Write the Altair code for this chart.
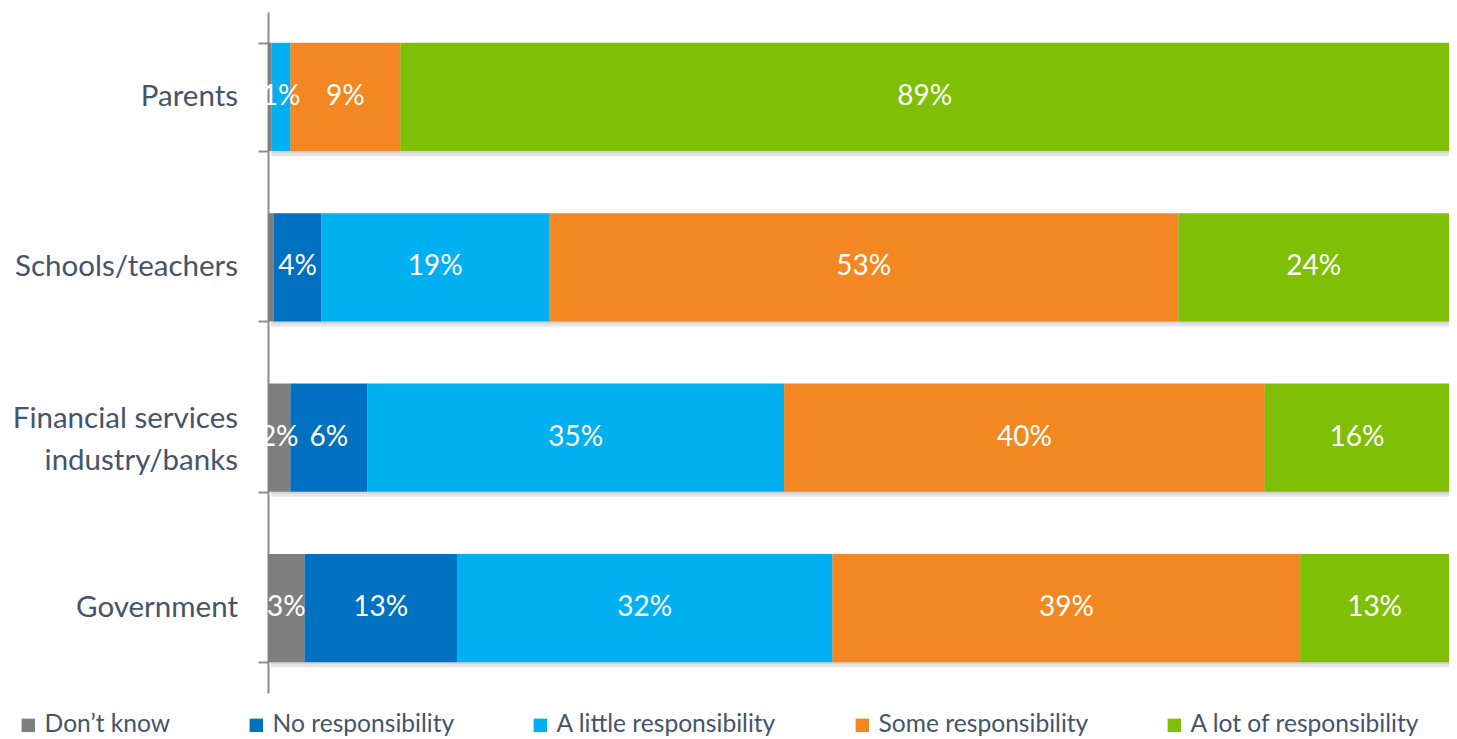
import altair as alt
import pandas as pd

categories = ["Parents", "Schools/teachers", "Financial services industry/banks", "Government"]
series = ["Don\u2019t know", "No responsibility", "A little responsibility", "Some responsibility", "A lot of responsibility"]
colors = ["#7F7F7F", "#0070C0", "#00B0F0", "#F38722", "#7FBF05"]

# category label lines (one or two lines per category)
cat_line1 = ["Parents", "Schools/teachers", "Financial services", "Government"]
cat_line2 = ["", "", "industry/banks", ""]

# values per series, in category order (percent)
dont_know = [0.3, 0.5, 1.9, 3.1]
no_resp = [0.0, 4.0, 6.5, 12.9]
little_resp = [1.6, 19.3, 35.3, 31.8]
some_resp = [9.3, 53.3, 40.7, 39.6]
lot_resp = [88.7, 22.9, 15.6, 12.6]

# data labels as printed
dont_know_lbl = ["", "", "2%", "3%"]
no_resp_lbl = ["", "4%", "6%", "13%"]
little_resp_lbl = ["1%", "19%", "35%", "32%"]
some_resp_lbl = ["9%", "53%", "40%", "39%"]
lot_resp_lbl = ["89%", "24%", "16%", "13%"]

vals = [dont_know, no_resp, little_resp, some_resp, lot_resp]
lbls = [dont_know_lbl, no_resp_lbl, little_resp_lbl, some_resp_lbl, lot_resp_lbl]

rows = []
for si, s in enumerate(series):
    for ci, c in enumerate(categories):
        rows.append({"cat": c, "series": s, "order": si, "val": vals[si][ci], "lbl": lbls[si][ci]})
df = pd.DataFrame(rows)

cat_df = pd.DataFrame({"cat": categories, "l1": cat_line1, "l2": cat_line2})
cat_df["two"] = cat_df["l2"] != ""

FONT = "Lato"
W, H = 1181, 681
LABEL_COLOR = "#44546A"

yscale = alt.Scale(domain=categories, paddingInner=0.365, paddingOuter=0.18)
yaxis = alt.Axis(
    domainColor="#8C8C8C", domainWidth=2, tickColor="#8C8C8C", tickWidth=2,
    tickSize=10, tickBand="extent", labels=False,
)
Y = alt.Y("cat:N", scale=yscale, sort=categories, title=None, axis=yaxis)

base = alt.Chart(df).transform_stack(
    stack="val", groupby=["cat"], as_=["x0", "x1"], offset="normalize",
    sort=[alt.SortField("order", order="ascending")]
).transform_calculate(mid="(datum.x0 + datum.x1) / 2")

xscale = alt.Scale(domain=[0, 1], nice=False, zero=True)

shadow1 = alt.Chart(cat_df).mark_bar(color="#000000", opacity=0.10, yOffset=5).encode(
    y=Y, x=alt.value(3), x2=alt.value(W),
)
shadow2 = alt.Chart(cat_df).mark_bar(color="#000000", opacity=0.08, yOffset=2).encode(
    y=Y, x=alt.value(3), x2=alt.value(W),
)

bars = base.mark_bar().encode(
    y=Y,
    x=alt.X("x0:Q", scale=xscale, axis=None),
    x2="x1:Q",
    color=alt.Color("series:N", scale=alt.Scale(domain=series, range=colors),
                    sort=series,
                    legend=alt.Legend(
                        title=None, orient="none", legendX=-252, legendY=701,
                        direction="horizontal", symbolType="square", symbolSize=180,
                        symbolStrokeWidth=0, labelFont=FONT, labelFontSize=24.6,
                        labelColor=LABEL_COLOR, columnPadding=73, labelOffset=4,
                        padding=0, symbolOpacity=1, labelLimit=400,
                    )),
)

text = base.mark_text(font=FONT, fontSize=28, color="white", baseline="middle", align="center").encode(
    y=Y,
    x=alt.X("mid:Q", scale=xscale, axis=None),
    text="lbl:N",
)

cat_style = dict(font=FONT, fontSize=29.5, color=LABEL_COLOR, align="right", baseline="middle")
cat_single = alt.Chart(cat_df).transform_filter("!datum.two").mark_text(**cat_style).encode(
    y=Y, x=alt.value(-30), text="l1:N",
)
cat_top = alt.Chart(cat_df).transform_filter("datum.two").mark_text(dy=-19, **cat_style).encode(
    y=Y, x=alt.value(-30), text="l1:N",
)
cat_bottom = alt.Chart(cat_df).transform_filter("datum.two").mark_text(dy=23, **cat_style).encode(
    y=Y, x=alt.value(-30), text="l2:N",
)

chart = alt.layer(shadow1, shadow2, bars, text, cat_single, cat_top, cat_bottom).properties(
    width=W, height=H,
    padding={"left": 260, "top": 4, "right": 0, "bottom": 46},
    autosize=alt.AutoSizeParams(type="none"),
).configure_view(stroke=None)

chart.save("out.html", embed_options={"renderer": "svg", "actions": False})
